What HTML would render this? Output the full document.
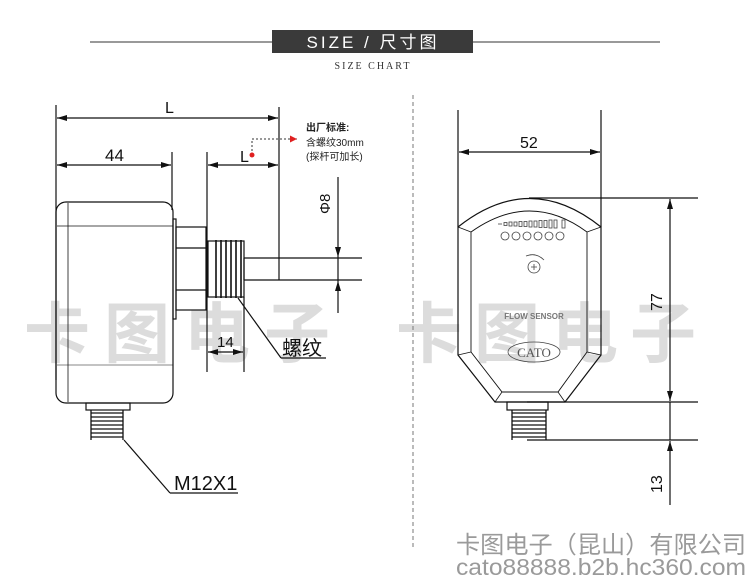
<!DOCTYPE html>
<html><head><meta charset="utf-8"><style>
html,body{margin:0;padding:0;background:#fff;}
svg{display:block;}
</style></head><body>
<svg width="750" height="578" viewBox="0 0 750 578" xmlns="http://www.w3.org/2000/svg" font-family="'Liberation Sans','Noto Sans CJK SC',sans-serif">
<defs>
<marker id="a" viewBox="0 0 10 6" refX="10" refY="3" markerWidth="10" markerHeight="6" orient="auto-start-reverse" markerUnits="userSpaceOnUse"><path d="M0,0L10,3L0,6z" fill="#111"/></marker>
<marker id="r" viewBox="0 0 8 8" refX="8" refY="4" markerWidth="7" markerHeight="7" orient="auto" markerUnits="userSpaceOnUse"><path d="M0,0L8,4L0,8z" fill="#e02020"/></marker>
</defs>
<!-- watermark -->
<g fill="#dcdcdc" font-size="66" font-weight="bold" font-family="'Noto Sans CJK SC',sans-serif">
<text x="24" y="357" letter-spacing="14">卡图电子</text>
<text x="396" y="357" letter-spacing="12">卡图电子</text>
</g>
<!-- header -->
<line x1="90" y1="42" x2="272" y2="42" stroke="#333" stroke-width="1"/>
<line x1="473" y1="42" x2="660" y2="42" stroke="#333" stroke-width="1"/>
<rect x="272" y="30" width="201" height="23" fill="#3a3a3a"/>
<text x="373" y="48" fill="#fff" font-size="17" text-anchor="middle" letter-spacing="3">SIZE / 尺寸图</text>
<text x="373" y="69" fill="#333" font-size="10" text-anchor="middle" letter-spacing="2" font-family="'Liberation Serif',serif">SIZE CHART</text>
<!-- center dashed -->
<line x1="413" y1="95" x2="413" y2="548" stroke="#777" stroke-dasharray="4,3"/>
<g stroke="#111" fill="none" stroke-width="1.2">
<line x1="56" y1="105" x2="56" y2="380"/>
<line x1="279" y1="107" x2="279" y2="280"/>
<line x1="57" y1="118" x2="278" y2="118" marker-start="url(#a)" marker-end="url(#a)"/>
<line x1="172" y1="152" x2="172" y2="210"/>
<line x1="57" y1="165" x2="171" y2="165" marker-start="url(#a)" marker-end="url(#a)"/>
<line x1="207" y1="152" x2="207" y2="372"/>
<line x1="244" y1="297" x2="244" y2="372"/>
<line x1="208" y1="165" x2="278" y2="165" marker-start="url(#a)" marker-end="url(#a)"/>
<line x1="208" y1="352" x2="243" y2="352" marker-start="url(#a)" marker-end="url(#a)"/>
<rect x="56" y="202" width="117" height="201" rx="10"/>
<line x1="68" y1="203" x2="68" y2="402" stroke-width="0.8"/>
<line x1="57" y1="226" x2="173" y2="226" stroke-width="0.8"/>
<line x1="57" y1="365" x2="173" y2="365" stroke-width="0.6"/>
<rect x="173" y="219" width="3" height="100"/>
<rect x="176" y="227" width="30" height="83"/>
<line x1="176" y1="248" x2="206" y2="248"/>
<line x1="176" y1="290" x2="206" y2="290"/>
<rect x="208" y="241" width="36" height="56"/>
<path d="M244,258H362M244,280H362M244,258V280"/>
<line x1="338" y1="177" x2="338" y2="257" marker-end="url(#a)"/>
<line x1="338" y1="313" x2="338" y2="281" marker-end="url(#a)"/>
<line x1="338" y1="257" x2="338" y2="281"/>
<line x1="238" y1="298" x2="281" y2="358"/>
<line x1="281" y1="358" x2="326" y2="358"/>
<line x1="124" y1="440" x2="170" y2="493"/>
<line x1="170" y1="493" x2="238" y2="493"/>
<rect x="86" y="403" width="44" height="7"/>
</g>
<g stroke="#111" stroke-width="1.6">
<line x1="216" y1="240" x2="216" y2="298"/><line x1="221" y1="240" x2="221" y2="298"/><line x1="226" y1="240" x2="226" y2="298"/><line x1="231" y1="240" x2="231" y2="298"/><line x1="236" y1="240" x2="236" y2="298"/><line x1="241" y1="240" x2="241" y2="298"/>
</g>
<g stroke="#111" stroke-width="1.3">
<line x1="91" y1="413" x2="123" y2="413"/><line x1="91" y1="417" x2="123" y2="417"/><line x1="91" y1="421" x2="123" y2="421"/><line x1="91" y1="425" x2="123" y2="425"/><line x1="91" y1="429" x2="123" y2="429"/><line x1="91" y1="433" x2="123" y2="433"/><line x1="91" y1="437" x2="123" y2="437"/>
<line x1="91" y1="410" x2="91" y2="440"/><line x1="123" y1="410" x2="123" y2="440"/>
</g>
<path d="M252,155V139H297" stroke="#333" stroke-dasharray="2,2" fill="none" marker-end="url(#r)"/>
<circle cx="252" cy="155" r="2.5" fill="#e02020"/>
<g fill="#222" font-size="10">
<text x="306" y="131" font-weight="bold">出厂标准:</text>
<text x="306" y="146">含螺纹30mm</text>
<text x="306" y="160">(探杆可加长)</text>
</g>
<g fill="#111" font-size="16">
<text x="165" y="113">L</text>
<text x="105" y="161" font-size="17">44</text>
<text x="240" y="162">L</text>
<text x="217" y="347" font-size="15">14</text>
<text transform="translate(330,214) rotate(-90)" font-size="15">Φ8</text>
<text x="282" y="355" font-size="20">螺纹</text>
<text x="174" y="490" font-size="20">M12X1</text>
</g>
<g stroke="#111" fill="none" stroke-width="1.2">
<line x1="458" y1="110" x2="458" y2="227"/>
<line x1="601" y1="110" x2="601" y2="227"/>
<line x1="459" y1="152" x2="600" y2="152" marker-start="url(#a)" marker-end="url(#a)"/>
<path d="M458,227Q530,170 601,227V355L565,402H495L458,355Z"/>
<path d="M471,232Q530,190 587,232V352L558,392H502L471,352Z" stroke-width="0.9"/>
<line x1="458" y1="227" x2="471" y2="232" stroke-width="0.8"/>
<line x1="601" y1="227" x2="587" y2="232" stroke-width="0.8"/>
<line x1="458" y1="355" x2="471" y2="352" stroke-width="0.8"/>
<line x1="601" y1="355" x2="587" y2="352" stroke-width="0.8"/>
<line x1="495" y1="402" x2="502" y2="392" stroke-width="0.8"/>
<line x1="565" y1="402" x2="558" y2="392" stroke-width="0.8"/>
<rect x="507" y="402" width="41" height="8"/>
<line x1="529" y1="198" x2="698" y2="198"/>
<line x1="527" y1="402" x2="698" y2="402"/>
<line x1="527" y1="440" x2="698" y2="440"/>
<line x1="670" y1="199" x2="670" y2="401" marker-start="url(#a)" marker-end="url(#a)"/>
<line x1="670" y1="402" x2="670" y2="440"/>
<line x1="670" y1="500" x2="670" y2="441" marker-end="url(#a)"/>
<line x1="670" y1="500" x2="670" y2="505"/>
</g>
<g stroke="#111" stroke-width="1.3">
<line x1="512" y1="413" x2="546" y2="413"/><line x1="512" y1="417" x2="546" y2="417"/><line x1="512" y1="421" x2="546" y2="421"/><line x1="512" y1="425" x2="546" y2="425"/><line x1="512" y1="429" x2="546" y2="429"/><line x1="512" y1="433" x2="546" y2="433"/><line x1="512" y1="437" x2="546" y2="437"/>
<line x1="512" y1="410" x2="512" y2="440"/><line x1="546" y1="410" x2="546" y2="440"/>
</g>
<g stroke="#444" fill="none" stroke-width="0.8">
<line x1="498" y1="224" x2="502" y2="224"/>
<rect x="504" y="222.5" width="3" height="3"/><rect x="509" y="222" width="3" height="4"/><rect x="514" y="222" width="3" height="4"/><rect x="519" y="221.5" width="3" height="5"/><rect x="524" y="221.5" width="3" height="5"/><rect x="529" y="221" width="3" height="6"/><rect x="534" y="221" width="3" height="6"/><rect x="539" y="220.5" width="3" height="7"/><rect x="544" y="220.5" width="3" height="7"/><rect x="549" y="220" width="3" height="8"/><rect x="554" y="220" width="3" height="8"/><rect x="562" y="220" width="3" height="8"/>
<circle cx="505" cy="236" r="4"/><circle cx="516" cy="236" r="4"/><circle cx="527" cy="236" r="4"/><circle cx="538" cy="236" r="4"/><circle cx="549" cy="236" r="4"/><circle cx="560" cy="236" r="4"/>
<circle cx="534" cy="267" r="6"/><path d="M531,267h6M534,264v6"/>
<path d="M526,256Q536,252 544,260"/>
<ellipse cx="534" cy="352" rx="26" ry="10"/>
</g>
<text x="534" y="319" font-size="8" font-weight="bold" fill="#777" text-anchor="middle">FLOW SENSOR</text>
<text x="534" y="357" font-size="13" fill="#555" text-anchor="middle" font-family="'Liberation Serif',serif">CATO</text>
<g fill="#111" font-size="16">
<text x="520" y="148">52</text>
<text transform="translate(662,311) rotate(-90)">77</text>
<text transform="translate(662,493) rotate(-90)">13</text>
</g>
<text x="456" y="553" font-size="24" fill="#9a9a9a" font-family="'Noto Sans CJK SC',sans-serif" textLength="290" lengthAdjust="spacingAndGlyphs">卡图电子（昆山）有限公司</text>
<text x="456" y="575" font-size="23" fill="#9a9a9a" textLength="290" lengthAdjust="spacingAndGlyphs">cato88888.b2b.hc360.com</text>
</svg>
</body></html>
